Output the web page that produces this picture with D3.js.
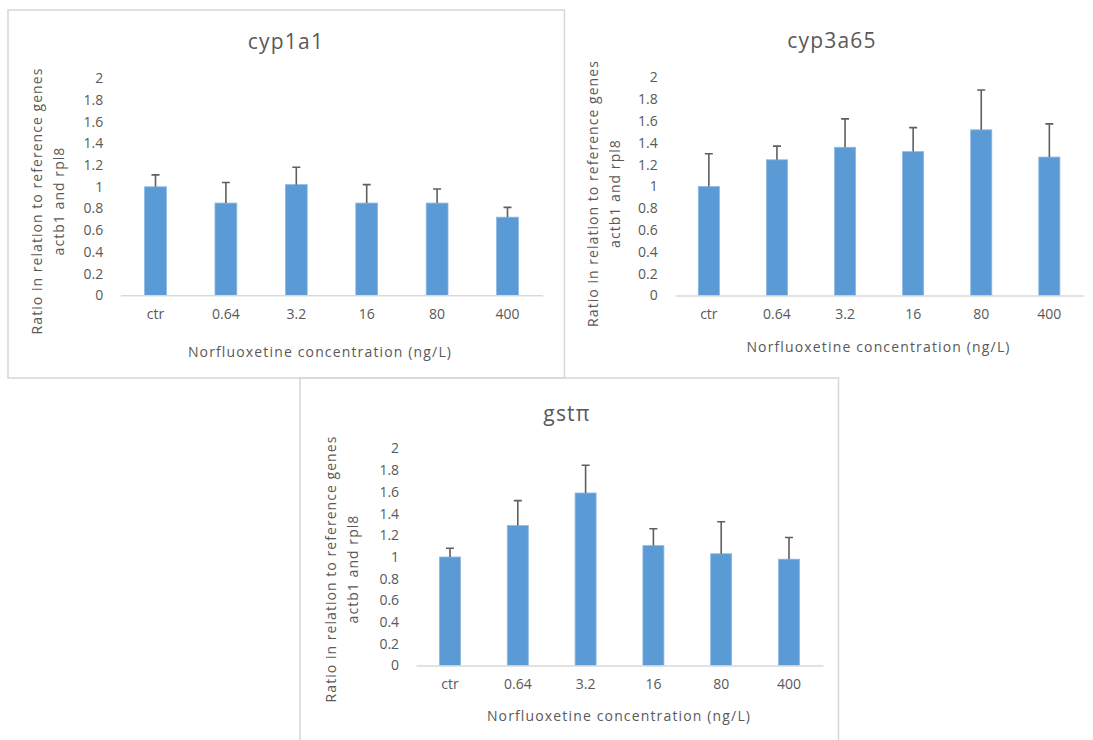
<!DOCTYPE html>
<html>
<head>
<meta charset="utf-8">
<script src="https://cdn.jsdelivr.net/npm/d3@7"></script>
<style>
  html, body { margin: 0; padding: 0; background: #ffffff; }
  svg { display: block; font-family: "Open Sans", "Noto Sans", sans-serif; }
</style>
</head>
<body>
<svg id="chart" width="1093" height="740"></svg>
<script>
// Norfluoxetine exposure groups (ng/L)
const concentrations = ["ctr", "0.64", "3.2", "16", "80", "400"];
const yTickValues = [0, 0.2, 0.4, 0.6, 0.8, 1, 1.2, 1.4, 1.6, 1.8, 2];

// Relative expression (mean) and upper error per gene
const cyp1a1Mean = [1.0, 0.85, 1.02, 0.85, 0.85, 0.72];
const cyp1a1Err  = [0.11, 0.19, 0.16, 0.17, 0.13, 0.09];

const cyp3a65Mean = [1.0, 1.245, 1.36, 1.32, 1.52, 1.27];
const cyp3a65Err  = [0.30, 0.125, 0.26, 0.22, 0.365, 0.305];

const gstpiMean = [1.0, 1.29, 1.59, 1.105, 1.03, 0.98];
const gstpiErr  = [0.08, 0.23, 0.255, 0.155, 0.295, 0.20];

const svg = d3.select("#chart");
const textColor = "#595959";
const frameColor = "#d6d6d6";

// Panel frames
const frames = svg.append("g")
  .attr("fill", "none")
  .attr("stroke", frameColor)
  .attr("stroke-width", 1.5);
frames.append("path").attr("d", "M8,10 H564.5 V378 H8 Z");
frames.append("path").attr("d", "M300,740 V378 H838.5 V740");

function drawPanel(opt) {
  const g = svg.append("g");

  const x = d3.scaleBand()
    .domain(opt.categories)
    .range([opt.x0, opt.x1])
    .padding(0);
  const y = d3.scaleLinear()
    .domain([0, 2])
    .range([opt.yBase, opt.yTop]);

  const barW = x.step() * 0.31;
  const rows = opt.categories.map((c, i) => ({ c, v: opt.mean[i], e: opt.err[i] }));

  // y tick labels (no axis line)
  const yAxis = g.append("g")
    .attr("transform", `translate(${opt.x0},0)`)
    .call(d3.axisLeft(y).tickValues(yTickValues).tickSize(0).tickPadding(17)
      .tickFormat(d => String(+d.toFixed(1))));
  yAxis.select(".domain").remove();
  yAxis.selectAll("text")
    .attr("fill", textColor)
    .style("font-size", "14px")
    .style("font-family", "'Open Sans', sans-serif");

  // bars
  g.append("g").selectAll("rect")
    .data(rows)
    .join("rect")
    .attr("x", d => x(d.c) + (x.step() - barW) / 2)
    .attr("width", barW)
    .attr("y", d => y(d.v))
    .attr("height", d => y(0) - y(d.v))
    .attr("fill", "#5b9bd5")
    .attr("stroke", "#8db8e4")
    .attr("stroke-width", 0.8);

  // error bars (upper only)
  const eb = g.append("g")
    .attr("stroke", "#5f5f5f")
    .attr("stroke-width", 1.6)
    .attr("fill", "none");
  eb.selectAll("path")
    .data(rows)
    .join("path")
    .attr("d", d => {
      const cx = x(d.c) + x.step() / 2;
      const top = y(d.v + d.e);
      return `M${cx},${y(d.v)} V${top} M${cx - 4},${top} H${cx + 4}`;
    });

  // x axis
  const xAxis = g.append("g")
    .attr("transform", `translate(0,${opt.yBase})`)
    .call(d3.axisBottom(x).tickSize(0).tickPadding(14));
  xAxis.select(".domain").attr("stroke", "#d9d9d9").attr("stroke-width", 1.5);
  xAxis.selectAll("text")
    .attr("fill", textColor)
    .style("font-size", "14px")
    .style("font-family", "'Open Sans', sans-serif");

  // chart title
  g.append("text")
    .attr("x", opt.titleX)
    .attr("y", opt.titleY)
    .attr("text-anchor", "middle")
    .attr("dominant-baseline", "central")
    .attr("fill", textColor)
    .style("font-size", "21px")
    .style("letter-spacing", "1.2px")
    .text(opt.title);

  // x axis title
  g.append("text")
    .attr("x", opt.xTitleX)
    .attr("y", opt.xTitleY)
    .attr("text-anchor", "middle")
    .attr("dominant-baseline", "central")
    .attr("fill", textColor)
    .style("font-size", "14px")
    .style("letter-spacing", "1.15px")
    .text("Norfluoxetine concentration (ng/L)");

  // y axis title (two lines)
  const yt = g.append("g")
    .attr("transform", `translate(${opt.yTitleX},${opt.yTitleY}) rotate(-90)`);
  yt.append("text")
    .attr("x", 0).attr("y", 0)
    .attr("text-anchor", "middle")
    .attr("dominant-baseline", "central")
    .attr("fill", textColor)
    .style("font-size", "14px")
    .style("letter-spacing", "1.05px")
    .text("Ratio in relation to reference genes");
  yt.append("text")
    .attr("x", 0).attr("y", 22)
    .attr("text-anchor", "middle")
    .attr("dominant-baseline", "central")
    .attr("fill", textColor)
    .style("font-size", "14px")
    .style("letter-spacing", "1.05px")
    .text("actb1 and rpl8");
}

drawPanel({
  title: "cyp1a1", categories: concentrations, mean: cyp1a1Mean, err: cyp1a1Err,
  x0: 120.3, x1: 542.7, yBase: 295.3, yTop: 78.3,
  titleX: 286, titleY: 41, xTitleX: 320, xTitleY: 351, yTitleX: 36, yTitleY: 201
});

drawPanel({
  title: "cyp3a65", categories: concentrations, mean: cyp3a65Mean, err: cyp3a65Err,
  x0: 674.8, x1: 1083.4, yBase: 295.5, yTop: 77.5,
  titleX: 832, titleY: 40, xTitleX: 878.5, xTitleY: 346, yTitleX: 592, yTitleY: 193.5
});

drawPanel({
  title: "gstπ", categories: concentrations, mean: gstpiMean, err: gstpiErr,
  x0: 416.1, x1: 822.9, yBase: 665.5, yTop: 448.5,
  titleX: 567, titleY: 413, xTitleX: 619, xTitleY: 715.7, yTitleX: 330, yTitleY: 569
});
</script>
</body>
</html>
